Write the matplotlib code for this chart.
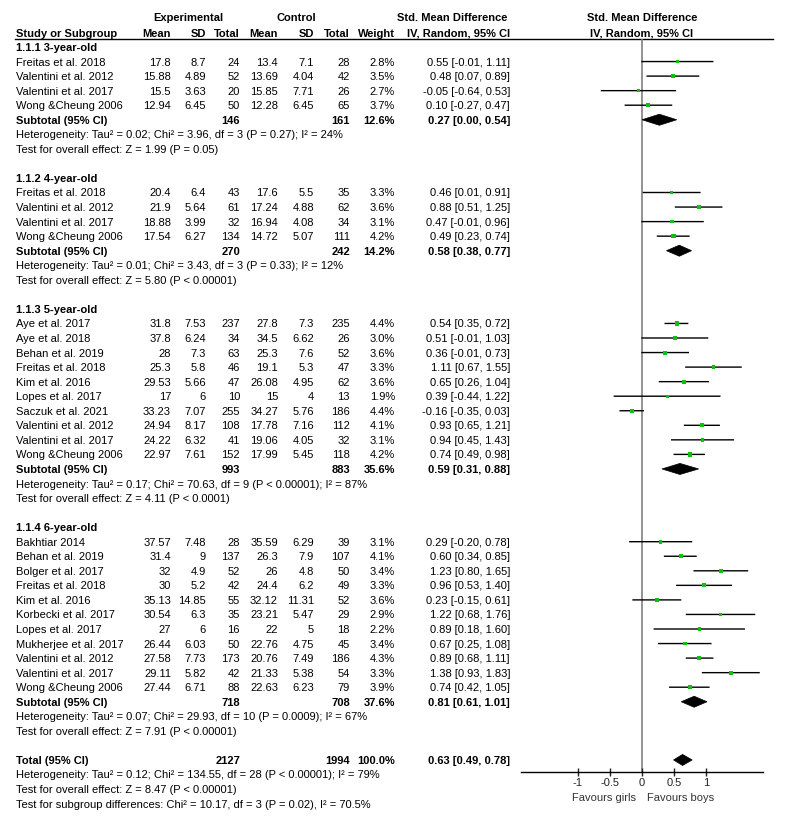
import numpy as np
import matplotlib
matplotlib.use("Agg")
import matplotlib.pyplot as plt
from matplotlib.patches import Polygon

plt.rcParams["font.family"] = ["Liberation Sans", "DejaVu Sans"]
plt.rcParams["font.size"] = 8

# ---- data ----
group_titles = ["1.1.1 3-year-old", "1.1.2 4-year-old", "1.1.3 5-year-old", "1.1.4 6-year-old"]
study_group = [0] * 4 + [1] * 4 + [2] * 10 + [3] * 11
study_names = [
    "Freitas et al. 2018", "Valentini et al. 2012", "Valentini et al. 2017", "Wong &Cheung 2006",
    "Freitas et al. 2018", "Valentini et al. 2012", "Valentini et al. 2017", "Wong &Cheung 2006",
    "Aye et al. 2017", "Aye et al. 2018", "Behan et al. 2019", "Freitas et al. 2018", "Kim et al. 2016",
    "Lopes et al. 2017", "Saczuk et al. 2021", "Valentini et al. 2012", "Valentini et al. 2017",
    "Wong &Cheung 2006",
    "Bakhtiar 2014", "Behan et al. 2019", "Bolger et al. 2017", "Freitas et al. 2018", "Kim et al. 2016",
    "Korbecki et al. 2017", "Lopes et al. 2017", "Mukherjee et al. 2017", "Valentini et al. 2012",
    "Valentini et al. 2017", "Wong &Cheung 2006",
]
exp_mean = [17.8, 15.88, 15.5, 12.94,
            20.4, 21.9, 18.88, 17.54,
            31.8, 37.8, 28, 25.3, 29.53, 17, 33.23, 24.94, 24.22, 22.97,
            37.57, 31.4, 32, 30, 35.13, 30.54, 27, 26.44, 27.58, 29.11, 27.44]
exp_sd = [8.7, 4.89, 3.63, 6.45,
          6.4, 5.64, 3.99, 6.27,
          7.53, 6.24, 7.3, 5.8, 5.66, 6, 7.07, 8.17, 6.32, 7.61,
          7.48, 9, 4.9, 5.2, 14.85, 6.3, 6, 6.03, 7.73, 5.82, 6.71]
exp_n = [24, 52, 20, 50,
         43, 61, 32, 134,
         237, 34, 63, 46, 47, 10, 255, 108, 41, 152,
         28, 137, 52, 42, 55, 35, 16, 50, 173, 42, 88]
ctl_mean = [13.4, 13.69, 15.85, 12.28,
            17.6, 17.24, 16.94, 14.72,
            27.8, 34.5, 25.3, 19.1, 26.08, 15, 34.27, 17.78, 19.06, 17.99,
            35.59, 26.3, 26, 24.4, 32.12, 23.21, 22, 22.76, 20.76, 21.33, 22.63]
ctl_sd = [7.1, 4.04, 7.71, 6.45,
          5.5, 4.88, 4.08, 5.07,
          7.3, 6.62, 7.6, 5.3, 4.95, 4, 5.76, 7.16, 4.05, 5.45,
          6.29, 7.9, 4.8, 6.2, 11.31, 5.47, 5, 4.75, 7.49, 5.38, 6.23]
ctl_n = [28, 42, 26, 65,
         35, 62, 34, 111,
         235, 26, 52, 47, 62, 13, 186, 112, 32, 118,
         39, 107, 50, 49, 52, 29, 18, 45, 186, 54, 79]
weight = [2.8, 3.5, 2.7, 3.7,
          3.3, 3.6, 3.1, 4.2,
          4.4, 3.0, 3.6, 3.3, 3.6, 1.9, 4.4, 4.1, 3.1, 4.2,
          3.1, 4.1, 3.4, 3.3, 3.6, 2.9, 2.2, 3.4, 4.3, 3.3, 3.9]
smd = [0.55, 0.48, -0.05, 0.10,
       0.46, 0.88, 0.47, 0.49,
       0.54, 0.51, 0.36, 1.11, 0.65, 0.39, -0.16, 0.93, 0.94, 0.74,
       0.29, 0.60, 1.23, 0.96, 0.23, 1.22, 0.89, 0.67, 0.89, 1.38, 0.74]
ci_lo = [-0.01, 0.07, -0.64, -0.27,
         0.01, 0.51, -0.01, 0.23,
         0.35, -0.01, -0.01, 0.67, 0.26, -0.44, -0.35, 0.65, 0.45, 0.49,
         -0.20, 0.34, 0.80, 0.53, -0.15, 0.68, 0.18, 0.25, 0.68, 0.93, 0.42]
ci_hi = [1.11, 0.89, 0.53, 0.47,
         0.91, 1.25, 0.96, 0.74,
         0.72, 1.03, 0.73, 1.55, 1.04, 1.22, 0.03, 1.21, 1.43, 0.98,
         0.78, 0.85, 1.65, 1.40, 0.61, 1.76, 1.60, 1.08, 1.11, 1.83, 1.05]

sub_exp_n = [146, 270, 993, 718]
sub_ctl_n = [161, 242, 883, 708]
sub_weight = [12.6, 14.2, 35.6, 37.6]
sub_smd = [0.27, 0.58, 0.59, 0.81]
sub_lo = [0.00, 0.38, 0.31, 0.61]
sub_hi = [0.54, 0.77, 0.88, 1.01]
sub_het = [
    "Heterogeneity: Tau\u00b2 = 0.02; Chi\u00b2 = 3.96, df = 3 (P = 0.27); I\u00b2 = 24%",
    "Heterogeneity: Tau\u00b2 = 0.01; Chi\u00b2 = 3.43, df = 3 (P = 0.33); I\u00b2 = 12%",
    "Heterogeneity: Tau\u00b2 = 0.17; Chi\u00b2 = 70.63, df = 9 (P < 0.00001); I\u00b2 = 87%",
    "Heterogeneity: Tau\u00b2 = 0.07; Chi\u00b2 = 29.93, df = 10 (P = 0.0009); I\u00b2 = 67%",
]
sub_test = [
    "Test for overall effect: Z = 1.99 (P = 0.05)",
    "Test for overall effect: Z = 5.80 (P < 0.00001)",
    "Test for overall effect: Z = 4.11 (P < 0.0001)",
    "Test for overall effect: Z = 7.91 (P < 0.00001)",
]

total_exp_n, total_ctl_n, total_weight = 2127, 1994, 100.0
total_smd, total_lo, total_hi = 0.63, 0.49, 0.78
total_notes = [
    "Heterogeneity: Tau\u00b2 = 0.12; Chi\u00b2 = 134.55, df = 28 (P < 0.00001); I\u00b2 = 79%",
    "Test for overall effect: Z = 8.47 (P < 0.00001)",
    "Test for subgroup differences: Chi\u00b2 = 10.17, df = 3 (P = 0.02), I\u00b2 = 70.5%",
]

x_ticks = [-1, -0.5, 0, 0.5, 1]
x_ticklabels = ["-1", "-0.5", "0", "0.5", "1"]

# ---- layout (pixels of the 795x818 figure) ----
W, H = 795, 818
ROW0 = 47.0      # pixel centre of first body row
PITCH = 14.55    # pixels per row
def px2row(p):
    return (p - ROW0) / PITCH

col_right = [171, 206, 240, 278, 314, 350, 395, 510]
name_x = 16

# assign rows
study_rows, title_rows, sub_rows = [], [], []
r = 0
for g in range(len(group_titles)):
    title_rows.append(r)
    r += 1
    for gi in study_group:
        if gi == g:
            study_rows.append(r)
            r += 1
    sub_rows.append(r)
    r += 4
total_row = r

fig = plt.figure(figsize=(W / 100, H / 100), dpi=100)
ylim = (px2row(H), px2row(0))

ax_t = fig.add_axes([0, 0, 1, 1])
ax_t.set_xlim(0, W)
ax_t.set_ylim(*ylim)
ax_t.axis("off")

def txt(x, row, s, ha="right", bold=False, color="black"):
    ax_t.text(x, row, s, ha=ha, va="center_baseline", color=color,
              fontweight="bold" if bold else "normal")

# headers
hdr1, hdr2 = px2row(17), px2row(33)
txt(188, hdr1, "Experimental", ha="center", bold=True)
txt(296, hdr1, "Control", ha="center", bold=True)
txt(507, hdr1, "Std. Mean Difference", bold=True)
txt(642, hdr1, "Std. Mean Difference", ha="center", bold=True)
txt(name_x, hdr2, "Study or Subgroup", ha="left", bold=True)
for x, s in zip(col_right[:7], ["Mean", "SD", "Total", "Mean", "SD", "Total", "Weight"]):
    txt(x, hdr2, s, bold=True)
txt(510, hdr2, "IV, Random, 95% CI", bold=True)
txt(642, hdr2, "IV, Random, 95% CI", ha="center", bold=True)
line_row = px2row(38.5)
ax_t.plot([15, 773], [line_row, line_row], color="black", lw=1)

# body text
for i, row in enumerate(study_rows):
    txt(name_x, row, study_names[i], ha="left")
    vals = [exp_mean[i], exp_sd[i], exp_n[i], ctl_mean[i], ctl_sd[i], ctl_n[i]]
    for x, v in zip(col_right[:6], vals):
        txt(x, row, f"{v:g}")
    txt(col_right[6], row, f"{weight[i]:.1f}%")
    txt(col_right[7], row, f"{smd[i]:.2f} [{ci_lo[i]:.2f}, {ci_hi[i]:.2f}]")

for g, row in enumerate(sub_rows):
    txt(name_x, title_rows[g], group_titles[g], ha="left", bold=True)
    txt(name_x, row, "Subtotal (95% CI)", ha="left", bold=True)
    txt(col_right[2], row, f"{sub_exp_n[g]}", bold=True)
    txt(col_right[5], row, f"{sub_ctl_n[g]}", bold=True)
    txt(col_right[6], row, f"{sub_weight[g]:.1f}%", bold=True)
    txt(col_right[7], row, f"{sub_smd[g]:.2f} [{sub_lo[g]:.2f}, {sub_hi[g]:.2f}]", bold=True)
    txt(name_x, row + 1, sub_het[g], ha="left")
    txt(name_x, row + 2, sub_test[g], ha="left")

txt(name_x, total_row, "Total (95% CI)", ha="left", bold=True)
txt(col_right[2], total_row, f"{total_exp_n}", bold=True)
txt(col_right[5], total_row, f"{total_ctl_n}", bold=True)
txt(col_right[6], total_row, f"{total_weight:.1f}%", bold=True)
txt(col_right[7], total_row, f"{total_smd:.2f} [{total_lo:.2f}, {total_hi:.2f}]", bold=True)
for k, s in enumerate(total_notes):
    txt(name_x, total_row + 1 + k, s, ha="left")

# ---- forest panel ----
x0_px, x1_px = 521, 763
ax_f = fig.add_axes([x0_px / W, 0, (x1_px - x0_px) / W, 1])
ax_f.set_xlim(-1.88, 1.88)
ax_f.set_ylim(*ylim)
ax_f.patch.set_visible(False)
for side in ["top", "left", "right"]:
    ax_f.spines[side].set_visible(False)
axis_row = px2row(772)
ax_f.spines["bottom"].set_position(("data", axis_row))
ax_f.spines["bottom"].set_linewidth(1)
ax_f.set_yticks([])
ax_f.set_xticks(x_ticks)
ax_f.set_xticklabels(x_ticklabels)
ax_f.tick_params(axis="x", direction="inout", length=6, width=1, pad=1, colors="#222222")

ax_f.vlines(0, line_row, axis_row, color="#808080", lw=1.2, zorder=1)
ax_f.hlines(study_rows, ci_lo, ci_hi, color="black", lw=1, zorder=2, snap=False)
ax_f.scatter(smd, study_rows, s=np.array(weight) * 2.2, marker="s",
             color="#10c010", linewidths=0, zorder=3)

dh = 0.38
for lo, est, hi, row in zip(sub_lo + [total_lo], sub_smd + [total_smd],
                            sub_hi + [total_hi], sub_rows + [total_row]):
    ax_f.add_patch(Polygon([(lo, row), (est, row - dh), (hi, row), (est, row + dh)],
                           closed=True, facecolor="black", edgecolor="black", lw=0.5, zorder=3))

fav_row = px2row(797)
ax_f.text(-0.09, fav_row, "Favours girls", ha="right", va="center_baseline", color="#333333")
ax_f.text(0.07, fav_row, "Favours boys", ha="left", va="center_baseline", color="#333333")

fig.savefig("out.png", dpi=100)
